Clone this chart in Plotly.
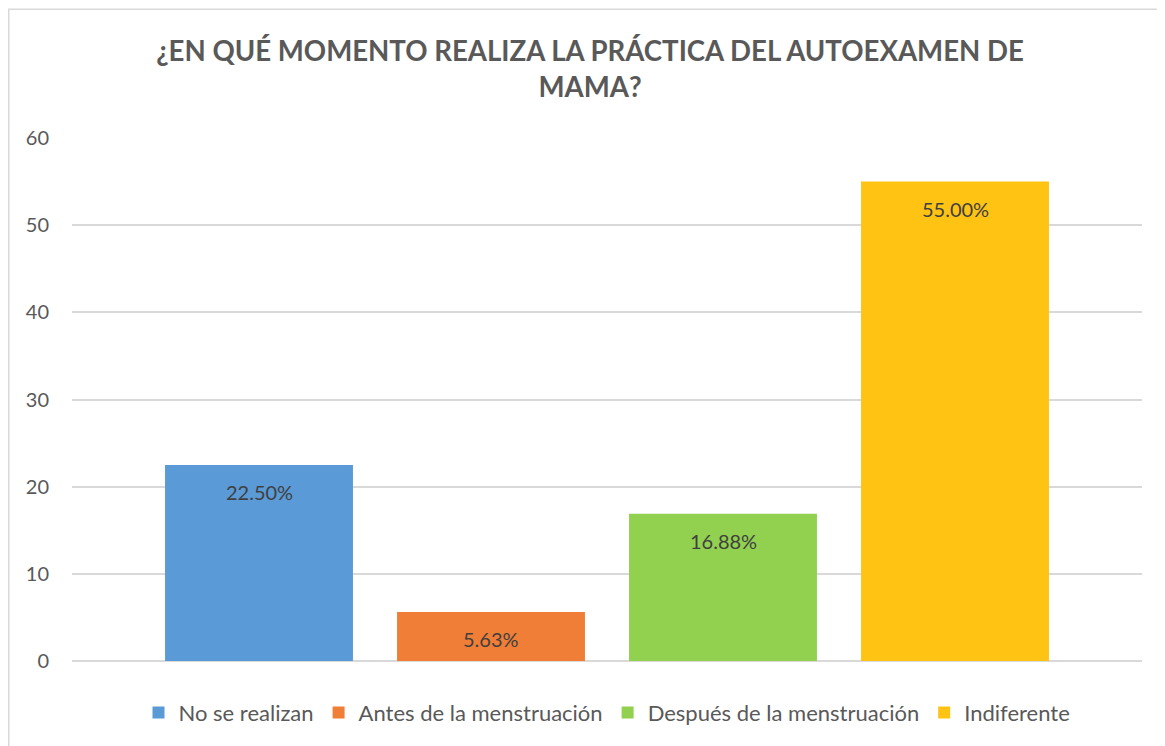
import plotly.graph_objects as go

series_names = ["No se realizan", "Antes de la menstruación", "Después de la menstruación", "Indiferente"]
values = [22.5, 5.63, 16.88, 55.0]
value_labels = ["22.50%", "5.63%", "16.88%", "55.00%"]
colors = ["#5A9AD6", "#F07E36", "#92D050", "#FFC314"]

title_text = "¿EN QUÉ MOMENTO REALIZA LA PRÁCTICA DEL AUTOEXAMEN DE<br>MAMA?"
font_family = "Lato, 'Open Sans', sans-serif"

fig = go.Figure()
for name, v, c in zip(series_names, values, colors):
    fig.add_trace(go.Bar(
        x=[name], y=[v], name=name,
        marker=dict(color=c, line=dict(width=0)),
        hoverinfo="name+y",
    ))

for name, v, lab in zip(series_names, values, value_labels):
    fig.add_annotation(x=name, y=v, text=lab, showarrow=False, yshift=-27,
                       yanchor="middle", xanchor="center",
                       font=dict(size=20, color="#404040", family=font_family))

W, H = 1157, 738
ml, mr, mt, mb = 64, 23, 130, 83
pw, ph = W - ml - mr, H - mt - mb

def px_x(x):
    return (x - ml) / pw

def px_y(y):
    return (H - mb - y) / ph

n = len(series_names)
cat_px = 232.0
extra = (pw - n * cat_px) / 2 / cat_px

fig.update_layout(
    width=W, height=H,
    margin=dict(l=ml, r=mr, t=mt, b=mb),
    paper_bgcolor="white", plot_bgcolor="white",
    barmode="overlay", bargap=0.19,
    title=dict(text=title_text, x=582 / W, xanchor="center", y=1 - 53 / H, yanchor="middle",
               font=dict(size=27.6, color="#595959", family=font_family, weight="bold")),
    showlegend=True,
    legend=dict(orientation="h", x=0.5, xanchor="center", y=px_y(707), yanchor="middle",
                font=dict(size=22, color="#595959", family=font_family),
                itemwidth=30, traceorder="normal"),
)
fig.update_xaxes(showticklabels=False, showgrid=False, zeroline=False, showline=False,
                 range=[-0.5 - extra, n - 0.5 + extra])
fig.update_yaxes(range=[0, 60], dtick=10, showgrid=True, gridcolor="#D9D9D9", gridwidth=1.5,
                 zeroline=True, zerolinecolor="#D9D9D9", zerolinewidth=1.5,
                 tickfont=dict(size=20, color="#595959", family=font_family),
                 ticklabelstandoff=22, showline=False)
fig.add_shape(type="rect", xref="paper", yref="paper",
              x0=px_x(0.75), x1=px_x(1150), y0=px_y(H + 5), y1=px_y(0.75),
              line=dict(color="#D9D9D9", width=1.5), fillcolor="rgba(0,0,0,0)", layer="below")

fig.write_html("out.html")
